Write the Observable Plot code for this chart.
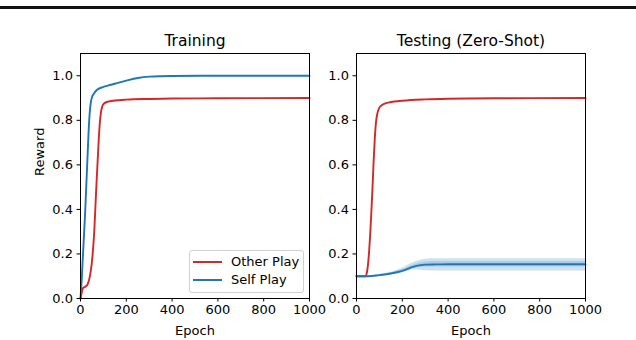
<!DOCTYPE html>
<html>
<head>
<meta charset="utf-8">
<script src="https://cdn.jsdelivr.net/npm/d3@7"></script>
<script src="https://cdn.jsdelivr.net/npm/@observablehq/plot@0.6"></script>
<style>
  html, body { margin: 0; padding: 0; background: white; }
  #wrap { position: relative; width: 636px; height: 340px; overflow: hidden; font-family: "DejaVu Sans", sans-serif; }
  .panel { position: absolute; top: 0; }
  #rule { position: absolute; left: 0; top: 6px; width: 636px; height: 3px; background: #111; }
  #legend { position: absolute; left: 189px; top: 250px; width: 113px; height: 41px; border: 1px solid #d0d0d0; border-radius: 3px; background: rgba(255,255,255,0.8); font-size: 13px; }
  .lg { position: absolute; left: 3px; height: 18px; display: flex; align-items: center; }
  .lg span.l { display: inline-block; width: 29px; height: 2px; margin-right: 9px; }
</style>
</head>
<body>
<div id="wrap">
  <div id="rule"></div>
  <div id="left" class="panel" style="left:0"></div>
  <div id="right" class="panel" style="left:318px"></div>
  <div id="legend"></div>
</div>
<script>
// ---- data ----
const xTicks = [0, 200, 400, 600, 800, 1000];
const yTicks = [0, 0.2, 0.4, 0.6, 0.8, 1.0];
const panelTitles = ["Training", "Testing (Zero-Shot)"];
const seriesNames = ["Other Play", "Self Play"];
const seriesColors = ["#d62728", "#1f77b4"];

// Training: Other Play
const otherTrainEpoch = [0,5,10,15,20,25,30,35,40,45,50,55,60,65,70,75,80,85,90,95,100,120,150,200,300,400,600,1000];
const otherTrainReward = [0,0.025,0.045,0.05,0.052,0.056,0.062,0.075,0.095,0.125,0.165,0.225,0.3,0.41,0.52,0.62,0.72,0.795,0.84,0.862,0.873,0.884,0.889,0.893,0.896,0.898,0.899,0.9];

// Training: Self Play
const selfTrainEpoch = [0,5,10,15,20,25,30,35,40,45,50,60,70,80,100,120,150,200,250,300,400,600,800,1000];
const selfTrainReward = [0,0.08,0.18,0.28,0.38,0.5,0.62,0.74,0.83,0.88,0.903,0.922,0.935,0.942,0.95,0.956,0.964,0.978,0.99,0.996,0.999,1.0,1.0,1.0];

// Testing: Other Play
const otherTestEpoch = [0,20,40,45,50,55,60,65,70,75,80,85,90,95,100,110,120,150,200,300,400,600,1000];
const otherTestReward = [0.1,0.1,0.1,0.115,0.15,0.21,0.29,0.39,0.5,0.62,0.72,0.79,0.825,0.845,0.857,0.868,0.874,0.882,0.888,0.894,0.897,0.899,0.9];

// Testing: Self Play (mean and spread across runs)
const selfTestEpoch = [0,50,100,150,200,250,280,300,350,400,600,800,1000];
const selfTestReward = [0.1,0.1,0.105,0.112,0.124,0.143,0.15,0.152,0.153,0.154,0.154,0.154,0.154];
const selfTestLow = [0.1,0.1,0.102,0.107,0.115,0.128,0.127,0.125,0.124,0.123,0.123,0.123,0.123];
const selfTestHigh = [0.1,0.101,0.108,0.118,0.136,0.162,0.172,0.176,0.178,0.178,0.178,0.178,0.178];
const selfTestLowInner = [0.1,0.1,0.103,0.109,0.119,0.135,0.139,0.14,0.141,0.141,0.141,0.141,0.141];
const selfTestHighInner = [0.1,0.1,0.107,0.115,0.13,0.152,0.161,0.164,0.166,0.166,0.166,0.166,0.166];

const toRows = (xs, ys) => xs.map((x, i) => ({x, y: ys[i]}));
const bandRows = (xs, lo, hi) => xs.map((x, i) => ({x, y1: lo[i], y2: hi[i]}));

const FS = 13;
function panel(title, marks, ml, mr, showYLabel) {
  return Plot.plot({
    width: 318,
    height: 340,
    marginTop: 53,
    marginBottom: 42,
    marginLeft: ml,
    marginRight: mr,
    style: {fontSize: FS + "px", fontFamily: "DejaVu Sans, sans-serif", overflow: "visible", background: "transparent", color: "black"},
    x: {domain: [0, 1000]},
    y: {domain: [0, 1.1]},
    marks: [
      ...marks,
      Plot.frame({stroke: "black", strokeWidth: 1}),
      Plot.axisX({ticks: xTicks, tickSize: 3.5, tickPadding: 3, tickFormat: d => String(d), label: null, fontSize: FS}),
      Plot.axisY({ticks: yTicks, tickSize: 3.5, tickPadding: 4, tickFormat: d => d.toFixed(1), label: null, fontSize: FS}),
      Plot.text([title], {text: d => d, frameAnchor: "top", dy: -12.5, lineAnchor: "middle", fontSize: 15.5, fill: "black"}),
      Plot.text(["Epoch"], {text: d => d, frameAnchor: "bottom", dy: 32, lineAnchor: "middle", fontSize: FS, fill: "black"}),
      ...(showYLabel ? [Plot.text(["Reward"], {text: d => d, frameAnchor: "left", dx: -41, rotate: -90, lineAnchor: "middle", fontSize: FS, fill: "black"})] : [])
    ]
  });
}

const left = panel(panelTitles[0], [
  Plot.line(toRows(otherTrainEpoch, otherTrainReward), {x: "x", y: "y", stroke: seriesColors[0], strokeWidth: 1.9, curve: "monotone-x"}),
  Plot.line(toRows(selfTrainEpoch, selfTrainReward), {x: "x", y: "y", stroke: seriesColors[1], strokeWidth: 1.9, curve: "monotone-x"})
], 80, 9, true);

const right = panel(panelTitles[1], [
  Plot.areaY(bandRows(selfTestEpoch, selfTestLow, selfTestHigh), {x: "x", y1: "y1", y2: "y2", fill: seriesColors[1], fillOpacity: 0.22, curve: "monotone-x"}),
  Plot.areaY(bandRows(selfTestEpoch, selfTestLowInner, selfTestHighInner), {x: "x", y1: "y1", y2: "y2", fill: seriesColors[1], fillOpacity: 0.18, curve: "monotone-x"}),
  Plot.line(toRows(otherTestEpoch, otherTestReward), {x: "x", y: "y", stroke: seriesColors[0], strokeWidth: 1.9, curve: "monotone-x"}),
  Plot.line(toRows(selfTestEpoch, selfTestReward), {x: "x", y: "y", stroke: seriesColors[1], strokeWidth: 1.9, curve: "monotone-x"})
], 38, 51, false);

document.getElementById("left").appendChild(left);
document.getElementById("right").appendChild(right);

const lg = document.getElementById("legend");
seriesNames.forEach((name, i) => {
  const row = document.createElement("div");
  row.className = "lg";
  row.style.top = (i === 0 ? 1.5 : 19.5) + "px";
  row.innerHTML = `<span class="l" style="background:${seriesColors[i]}"></span><span>${name}</span>`;
  lg.appendChild(row);
});
</script>
</body>
</html>
